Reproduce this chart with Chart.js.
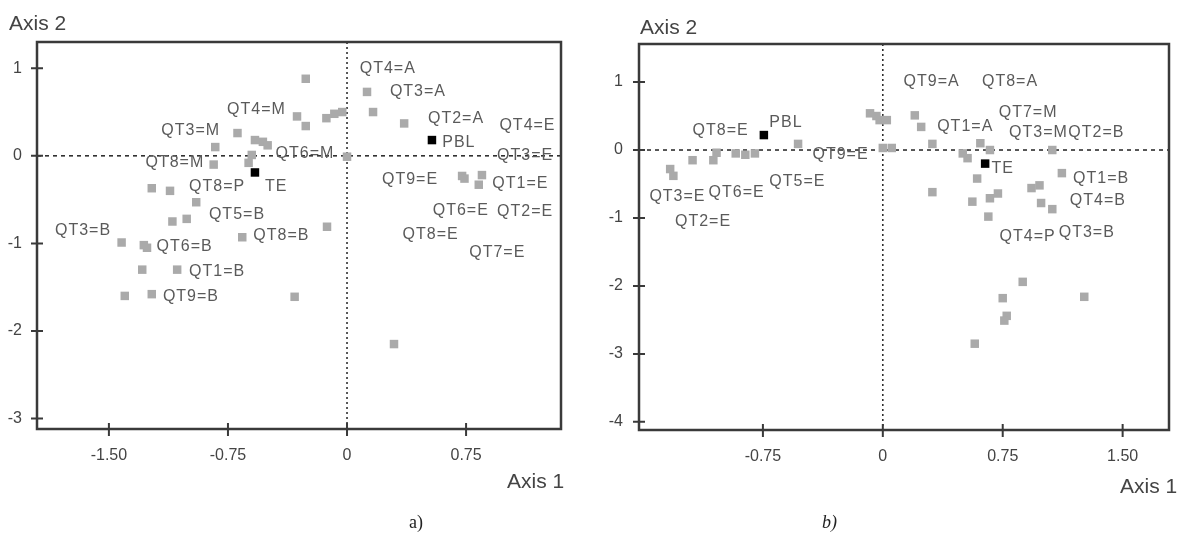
<!DOCTYPE html>
<html>
<head>
<meta charset="utf-8">
<script src="https://cdn.jsdelivr.net/npm/chart.js@4"></script>
<style>
  body { margin: 0; background: #fff; }
  #wrap { position: relative; width: 1187px; height: 533px; overflow: hidden; background: #fff; }
  canvas { position: absolute; top: 0; }
  .t { position: absolute; font-family: "Liberation Sans", Arial, sans-serif; font-size: 21px; line-height: 1; color: #444; white-space: nowrap; }
  .cap { position: absolute; font-family: "Liberation Serif", "Times New Roman", serif; font-size: 18px; line-height: 1; color: #222; }
</style>
</head>
<body>
<div id="wrap">
  <canvas id="chartA" width="590" height="533" style="left:0;width:590px;height:533px"></canvas>
  <canvas id="chartB" width="597" height="533" style="left:590px;width:597px;height:533px"></canvas>
  <div class="t" style="left:9px;top:12px">Axis 2</div>
  <div class="t" style="left:507px;top:470px">Axis 1</div>
  <div class="t" style="left:640px;top:16px">Axis 2</div>
  <div class="t" style="left:1120px;top:475px">Axis 1</div>
  <div class="cap" style="left:409px;top:513px">a)</div>
  <div class="cap" style="left:822px;top:513px;font-style:italic">b)</div>
</div>
<script>
// ---- chart a) ----
const xTicksA = [-1.5, -0.75, 0, 0.75];
const xTickLabelsA = ['-1.50', '-0.75', '0', '0.75'];
const yTicksA = [1, 0, -1, -2, -3];
const yTickLabelsA = ['1', '0', '-1', '-2', '-3'];

const grayXA = [-0.26, -0.315, -0.26, -0.69, -0.58, -0.53, -0.50, -0.83, -0.84, -0.60, -0.62, -1.23, -1.115, -0.95, -1.10, -1.01, -1.42, -1.28, -1.26, -0.66, -1.29, -1.07, -1.40, -1.23, -0.33, -0.13, -0.08, -0.03, 0.126, 0.164, 0.36, 0.0, 0.725, 0.74, 0.85, 0.83, -0.126, 0.296];
const grayYA = [0.88, 0.45, 0.34, 0.26, 0.18, 0.16, 0.12, 0.10, -0.10, 0.01, -0.08, -0.37, -0.40, -0.53, -0.75, -0.72, -0.99, -1.02, -1.05, -0.93, -1.30, -1.30, -1.60, -1.58, -1.61, 0.43, 0.48, 0.50, 0.73, 0.50, 0.37, -0.01, -0.23, -0.26, -0.22, -0.33, -0.81, -2.15];
const blackXA = [0.535, -0.58];
const blackYA = [0.18, -0.19];

const labelTextA = ['QT4=A', 'QT3=A', 'QT2=A', 'QT4=E', 'PBL', 'QT3=E', 'QT9=E', 'QT1=E', 'QT6=E', 'QT2=E', 'QT8=E', 'QT7=E', 'QT6=M', 'QT4=M', 'QT3=M', 'QT8=M', 'QT8=P', 'TE', 'QT5=B', 'QT3=B', 'QT6=B', 'QT8=B', 'QT1=B', 'QT9=B'];
const labelXA = [0.08, 0.27, 0.51, 0.96, 0.60, 0.945, 0.22, 0.915, 0.54, 0.945, 0.35, 0.77, -0.45, -0.756, -1.17, -1.27, -0.995, -0.517, -0.87, -1.84, -1.20, -0.59, -0.995, -1.16];
const labelYA = [1.0, 0.73, 0.43, 0.35, 0.15, 0.0, -0.27, -0.32, -0.62, -0.64, -0.90, -1.10, 0.02, 0.53, 0.29, -0.08, -0.35, -0.35, -0.67, -0.85, -1.04, -0.91, -1.32, -1.61];

// ---- chart b) ----
const xTicksB = [-0.75, 0, 0.75, 1.5];
const xTickLabelsB = ['-0.75', '0', '0.75', '1.50'];
const yTicksB = [1, 0, -1, -2, -3, -4];
const yTickLabelsB = ['1', '0', '-1', '-2', '-3', '-4'];

const grayXB = [-0.53, -1.33, -1.31, -1.19, -1.06, -1.04, -0.92, -0.86, -0.80, -0.08, -0.04, -0.02, 0.025, 0.0, 0.056, 0.2, 0.24, 0.31, 0.31, 0.50, 0.53, 0.61, 0.67, 0.59, 0.56, 0.67, 0.72, 0.66, 1.06, 1.12, 0.93, 0.98, 0.99, 1.06, 0.875, 0.75, 0.775, 0.76, 0.575, 1.26];
const grayYB = [0.09, -0.28, -0.38, -0.15, -0.15, -0.04, -0.05, -0.07, -0.05, 0.54, 0.50, 0.44, 0.44, 0.03, 0.03, 0.51, 0.34, 0.09, -0.62, -0.05, -0.12, 0.10, 0.0, -0.42, -0.76, -0.71, -0.64, -0.98, 0.0, -0.34, -0.56, -0.52, -0.78, -0.87, -1.94, -2.18, -2.44, -2.51, -2.85, -2.16];
const blackXB = [-0.744, 0.64];
const blackYB = [0.22, -0.20];

const labelTextB = ['QT8=E', 'PBL', 'QT9=E', 'QT5=E', 'QT3=E', 'QT6=E', 'QT2=E', 'QT9=A', 'QT8=A', 'QT7=M', 'QT1=A', 'QT3=M', 'QT2=B', 'TE', 'QT1=B', 'QT4=B', 'QT4=P', 'QT3=B'];
const labelXB = [-1.19, -0.71, -0.44, -0.71, -1.46, -1.09, -1.30, 0.13, 0.62, 0.725, 0.34, 0.79, 1.16, 0.68, 1.19, 1.17, 0.73, 1.10];
const labelYB = [0.29, 0.41, -0.07, -0.47, -0.69, -0.63, -1.06, 1.0, 1.0, 0.55, 0.34, 0.25, 0.25, -0.27, -0.42, -0.74, -1.27, -1.22];

const zip = (xs, ys) => xs.map((x, i) => ({ x: x, y: ys[i] }));

// box, crossing tick marks, zero reference lines and point labels
const framePlugin = {
    id: 'frame',
    beforeDatasetsDraw(chart, args, opts) {
        const ctx = chart.ctx;
        const a = chart.chartArea;
        const xs = chart.scales.x, ys = chart.scales.y;
        ctx.save();
        ctx.strokeStyle = '#222';
        ctx.lineWidth = 1.5;
        // horizontal dashed line at y = 0
        const y0 = ys.getPixelForValue(0);
        ctx.setLineDash([4, 4]);
        ctx.beginPath(); ctx.moveTo(a.left, y0); ctx.lineTo(a.right, y0); ctx.stroke();
        // vertical dotted line at x = 0
        const x0 = xs.getPixelForValue(0);
        ctx.setLineDash([2, 3]);
        ctx.beginPath(); ctx.moveTo(x0, a.top); ctx.lineTo(x0, a.bottom); ctx.stroke();
        ctx.setLineDash([]);
        // labels
        ctx.fillStyle = '#5a5a5a';
        ctx.font = '16px "Liberation Sans", Arial, sans-serif';
        if ('letterSpacing' in ctx) ctx.letterSpacing = '1px';
        ctx.textAlign = 'left';
        ctx.textBaseline = 'middle';
        opts.text.forEach((t, i) => {
            ctx.fillText(t, xs.getPixelForValue(opts.xs[i]), ys.getPixelForValue(opts.ys[i]));
        });
        ctx.restore();
    },
    afterDraw(chart) {
        const ctx = chart.ctx;
        const a = chart.chartArea;
        const xs = chart.scales.x, ys = chart.scales.y;
        ctx.save();
        ctx.strokeStyle = '#3a3a3a';
        ctx.lineWidth = 2.5;
        ctx.strokeRect(a.left, a.top, a.right - a.left, a.bottom - a.top);
        ctx.lineWidth = 2;
        ctx.beginPath();
        xs.ticks.forEach(t => {
            const px = xs.getPixelForValue(t.value);
            ctx.moveTo(px, a.bottom - 6); ctx.lineTo(px, a.bottom + 7);
        });
        ys.ticks.forEach(t => {
            const py = ys.getPixelForValue(t.value);
            ctx.moveTo(a.left - 6, py); ctx.lineTo(a.left + 6, py);
        });
        ctx.stroke();
        ctx.restore();
    }
};

function makeChart(id, cfg) {
    const tickFont = { family: '"Liberation Sans", Arial, sans-serif', size: 16 };
    return new Chart(document.getElementById(id), {
        type: 'scatter',
        data: {
            datasets: [
                {
                    data: zip(cfg.grayX, cfg.grayY),
                    pointStyle: 'rect',
                    pointRadius: 6,
                    pointBorderWidth: 0,
                    backgroundColor: '#aaaaaa',
                    borderColor: '#aaaaaa'
                },
                {
                    data: zip(cfg.blackX, cfg.blackY),
                    pointStyle: 'rect',
                    pointRadius: 6,
                    pointBorderWidth: 0,
                    backgroundColor: '#000000',
                    borderColor: '#000000'
                }
            ]
        },
        options: {
            responsive: false,
            animation: false,
            layout: { padding: cfg.padding },
            plugins: {
                legend: { display: false },
                tooltip: { enabled: false },
                frame: { text: cfg.labelText, xs: cfg.labelX, ys: cfg.labelY }
            },
            scales: {
                x: {
                    type: 'linear',
                    min: cfg.xMin, max: cfg.xMax,
                    grid: { display: false },
                    border: { display: false },
                    afterBuildTicks: s => { s.ticks = cfg.xTicks.map(v => ({ value: v })); },
                    afterFit: s => { s.height = 50; },
                    ticks: {
                        padding: 9,
                        color: '#444',
                        font: tickFont,
                        maxRotation: 0,
                        callback: (v, i) => cfg.xTickLabels[i]
                    }
                },
                y: {
                    type: 'linear',
                    min: cfg.yMin, max: cfg.yMax,
                    grid: { display: false },
                    border: { display: false },
                    afterBuildTicks: s => { s.ticks = cfg.yTicks.map(v => ({ value: v })); },
                    afterFit: s => { s.width = cfg.yWidth; },
                    ticks: {
                        padding: cfg.yPad,
                        color: '#444',
                        font: tickFont,
                        callback: (v, i) => cfg.yTickLabels[i]
                    }
                }
            }
        },
        plugins: [framePlugin]
    });
}

makeChart('chartA', {
    grayX: grayXA, grayY: grayYA, blackX: blackXA, blackY: blackYA,
    labelText: labelTextA, labelX: labelXA, labelY: labelYA,
    xTicks: xTicksA, xTickLabels: xTickLabelsA, yTicks: yTicksA, yTickLabels: yTickLabelsA,
    xMin: -1.953, xMax: 1.348, yMin: -3.12, yMax: 1.30,
    yWidth: 37, yPad: 7,
    padding: { left: 0, top: 42, right: 29, bottom: 54 }
});

makeChart('chartB', {
    grayX: grayXB, grayY: grayYB, blackX: blackXB, blackY: blackYB,
    labelText: labelTextB, labelX: labelXB, labelY: labelYB,
    xTicks: xTicksB, xTickLabels: xTickLabelsB, yTicks: yTicksB, yTickLabels: yTickLabelsB,
    xMin: -1.525, xMax: 1.79, yMin: -4.12, yMax: 1.56,
    yWidth: 49, yPad: 8,
    padding: { left: 0, top: 44, right: 18, bottom: 53 }
});
</script>
</body>
</html>
